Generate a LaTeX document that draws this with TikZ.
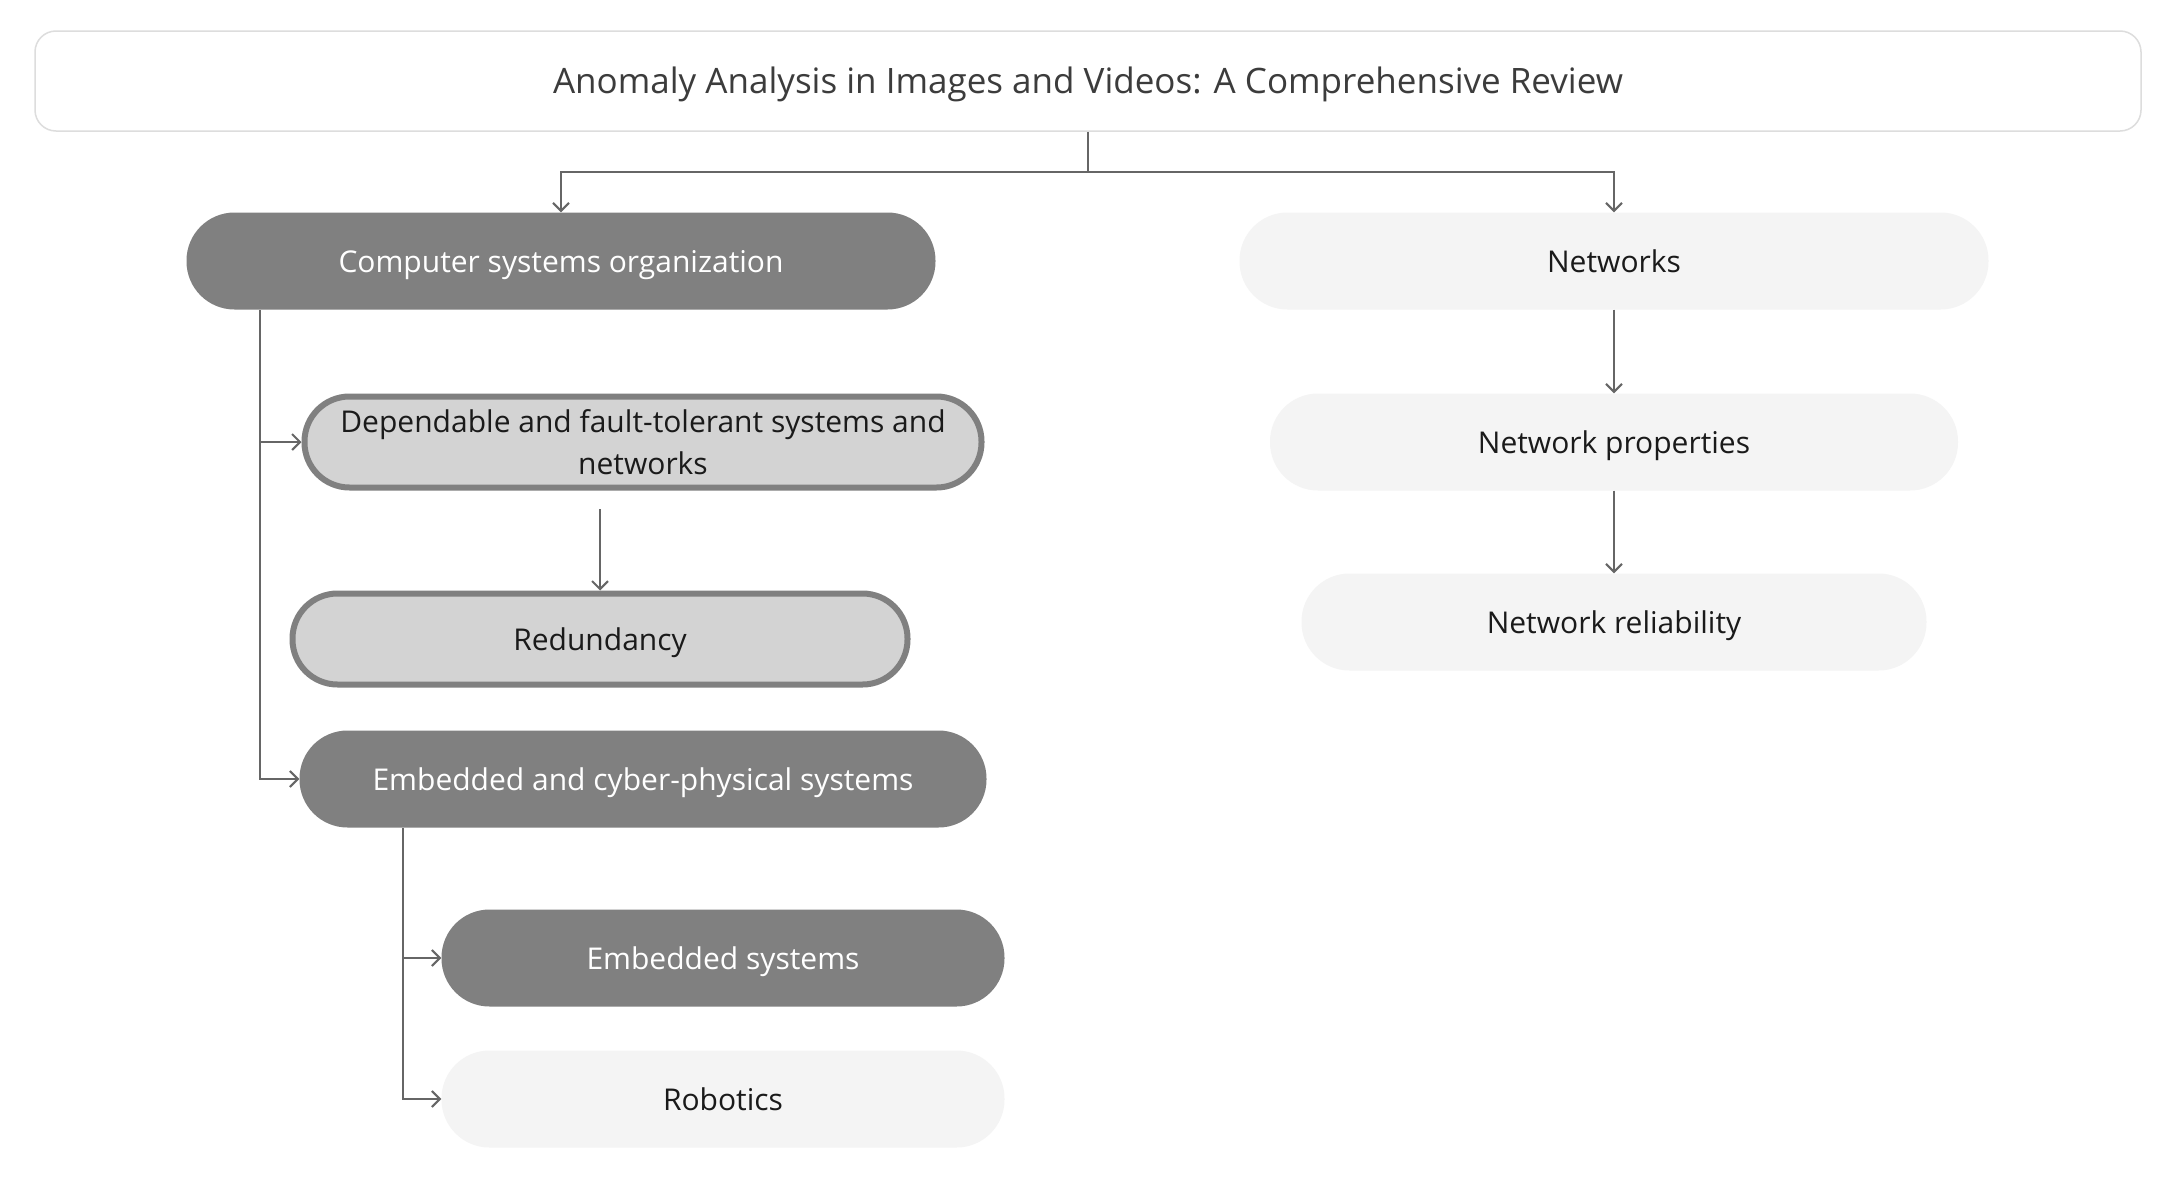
\documentclass[tikz,border=0pt]{standalone}
\usepackage{fontspec}
\setmainfont{Open Sans}
\usetikzlibrary{arrows.meta}
\definecolor{boxdark}{HTML}{808080}
\definecolor{boxmid}{HTML}{D3D3D3}
\definecolor{boxlight}{HTML}{F4F4F4}
\definecolor{boxline}{HTML}{DDDDDD}
\definecolor{linegray}{HTML}{666666}
\definecolor{textgray}{HTML}{1A1A1A}
\begin{document}
\begin{tikzpicture}[x=1pt,y=-1pt,>={Straight Barb[length=8pt,width=16pt]},
  conn/.style={->,draw=linegray,line width=2pt},
  pill/.style={rounded corners=48pt,inner sep=0pt,minimum height=97pt,font=\fontsize{30}{42}\selectfont,text=textgray,text height=22pt,text depth=0pt},
  darkpill/.style={pill,fill=boxdark,text=white},
  midpill/.style={pill,fill=boxmid,draw=boxdark,line width=6pt,minimum height=91pt,rounded corners=45pt},
  lightpill/.style={pill,fill=boxlight},
  titlebox/.style={draw=boxline,fill=white,line width=1.5pt,rounded corners=21pt,minimum width=2106pt,minimum height=100pt,font=\fontsize{35}{42}\selectfont,text=textgray!85!white,text height=25pt,text depth=0pt}]
\useasboundingbox[fill=white] (0,0) rectangle (2179,1183);
\node[titlebox] (title) at (1088,81) {Anomaly Analysis in Images and Videos: A Comprehensive Review};
% left branch
\node[darkpill,minimum width=749pt] (cso) at (561,261) {Computer systems organization};
\node[midpill,minimum width=677pt,align=center,text height=,text depth=] (dep) at (643,442) {Dependable and fault-tolerant systems and\\networks};
\node[midpill,minimum width=615pt] (red) at (600,639) {Redundancy};
\node[darkpill,minimum width=687pt] (ecps) at (643,779) {Embedded and cyber-physical systems};
\node[darkpill,minimum width=563pt] (es) at (723,958) {Embedded systems};
\node[lightpill,minimum width=563pt] (rob) at (723,1099) {Robotics};
% right branch
\node[lightpill,minimum width=749pt] (net) at (1614,261) {Networks};
\node[lightpill,minimum width=688pt] (netp) at (1614,442) {Network properties};
\node[lightpill,minimum width=625pt] (netrel) at (1614,622) {Network reliability};
% connectors
\coordinate (split) at (1088,172);
\coordinate (trunkA) at (260,310);
\coordinate (trunkB) at (403,828);
\coordinate (depgap) at (600,509);
\draw[draw=linegray,line width=2pt] (title.south) -- (split);
\foreach \b in {cso,net}{\draw[conn] (split) -| (\b.north);}
\foreach \b in {dep,ecps}{\draw[conn] (trunkA) |- (\b.west);}
\foreach \b in {es,rob}{\draw[conn] (trunkB) |- (\b.west);}
\draw[conn] (depgap) -- (red.north);
\foreach \a/\b in {net/netp,netp/netrel}{\draw[conn] (\a.south) -- (\b.north);}
\end{tikzpicture}
\end{document}
